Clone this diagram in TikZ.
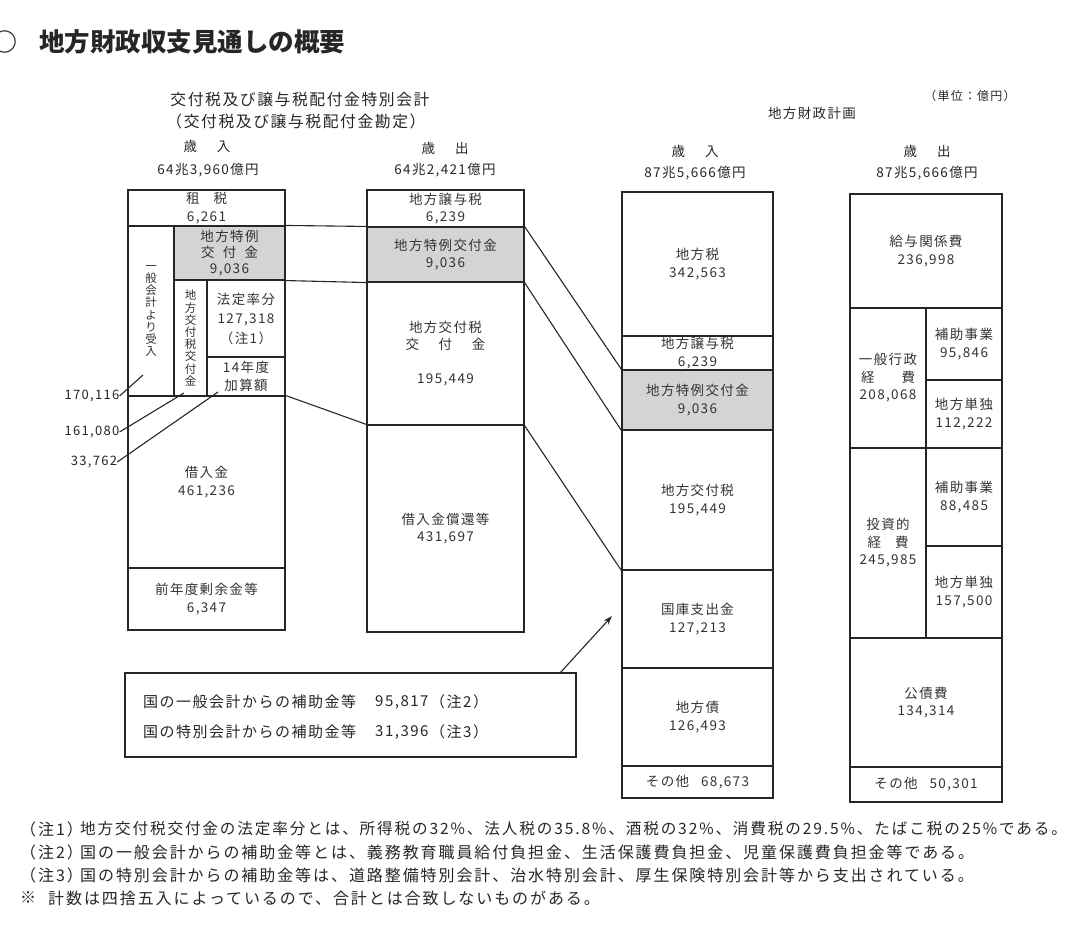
\documentclass[tikz,border=0pt]{standalone}
\usepackage{fontspec}
\setmainfont{Noto Sans CJK JP}[LetterSpace=10]
\newfontfamily\titlefont{Noto Sans CJK JP}
\newfontfamily\notefont{Noto Sans CJK JP}[LetterSpace=12]
\usetikzlibrary{arrows.meta}

\begin{document}
\begin{tikzpicture}[x=1pt, y=-1pt,
                    box/.style={rectangle, draw=black!85, line width=1.1pt, inner sep=0pt, align=center,
                                text=black!80, font=\fontsize{13.5}{17.5}\selectfont},
                    grey/.style={box, fill=black!17},
                    wh/.style 2 args={minimum width=#1, minimum height=#2},
                    vert/.style={font=\fontsize{11.5}{12.2}\selectfont},
                    txt/.style={inner sep=0pt, align=center, text=black!85, font=\fontsize{13.5}{17.5}\selectfont},
                    note/.style={inner sep=0pt, anchor=west, text=black!85, font=\notefont\fontsize{16}{18}\selectfont},
                    every edge/.style={draw, black!85, line width=1.1pt}]

    \clip (0,0) rectangle (1086,936);

    % Headings
    \node[txt, font=\titlefont\bfseries\fontsize{25}{28}\selectfont] (circ) at (5,42) {○};
    \node[txt, font=\titlefont\bfseries\fontsize{25.5}{28}\selectfont] (title) at (192,42) {地方財政収支見通しの概要};
    \node[txt, font=\fontsize{15.8}{18}\selectfont] (tokkai) at (300,100) {交付税及び譲与税配付金特別会計};
    \node[txt, font=\fontsize{15.8}{18}\selectfont] (kanjou) at (296,121) {（交付税及び譲与税配付金勘定）};
    \node[txt] (lin) at (207,146) {歳\hspace{20pt}入};
    \node[txt] (linv) at (208,170) {64兆3,960億円};
    \node[txt] (lout) at (445,148) {歳\hspace{20pt}出};
    \node[txt] (loutv) at (445,170) {64兆2,421億円};
    \node[txt] (keikaku) at (812,113) {地方財政計画};
    \node[txt, font=\fontsize{12}{14}\selectfont] (tani) at (970,96) {（単位：億円）};
    \node[txt] (rin) at (695,151) {歳\hspace{20pt}入};
    \node[txt] (rinv) at (695,173) {87兆5,666億円};
    \node[txt] (rout) at (927,151) {歳\hspace{20pt}出};
    \node[txt] (routv) at (927,173) {87兆5,666億円};

    % Special account: revenue
    \node[box, wh={157}{36}] (sozei) at (206.5,208) {租\hspace{14pt}税\\6,261};
    \node[box, vert, wh={46}{170}] (ippan) at (151,311) {一\\般\\会\\計\\よ\\り\\受\\入}; % from general account
    \node[grey, wh={111}{54}, font=\fontsize{13.5}{16}\selectfont] (tokurei) at (229.5,253) {地方特例\\\makebox[57pt][s]{交\hfill 付\hfill 金}\\9,036};
    \node[box, vert, wh={33}{116}] (koufuzei) at (190.5,338) {地\\方\\交\\付\\税\\交\\付\\金};
    \node[box, wh={78}{77}, font=\fontsize{13.5}{19.5}\selectfont] (houtei) at (246,318.5) {法定率分\\127,318\\（注1）};
    \node[box, wh={78}{39}] (kasan) at (246,376.5) {14年度\\加算額};
    \node[box, wh={157}{172}] (kariire) at (206.5,482) {借入金\\461,236};
    \node[box, wh={157}{62}] (zennen) at (206.5,599) {前年度剰余金等\\6,347};

    % Sums on the left
    \node[txt, font=\fontsize{13}{15}\selectfont] (v170) at (92,396) {170,116};
    \node[txt, font=\fontsize{13}{15}\selectfont] (v161) at (92,432) {161,080};
    \node[txt, font=\fontsize{13}{15}\selectfont] (v33) at (94,462) {33,762};
    \coordinate (c170) at (143,375);
    \coordinate (c161) at (184,393);
    \coordinate (c33) at (218,392);

    % Special account: expenditure
    \node[box, wh={157}{37}] (mjouyo) at (445.5,208.5) {地方譲与税\\6,239};
    \node[grey, wh={157}{55}] (mtokurei) at (445.5,254.5) {地方特例交付金\\9,036};
    \node[box, wh={157}{143}] (mkoufu) at (445.5,353.5) {地方交付税\\\makebox[80pt][s]{交\hfill 付\hfill 金}\\[16pt]195,449};
    \node[box, wh={157}{207}] (mshoukan) at (445.5,528.5) {借入金償還等\\431,697};

    % Local finance plan: revenue
    \node[box, wh={151}{144}] (rzei) at (697.5,264) {地方税\\342,563};
    \node[box, wh={151}{34}] (rjouyo) at (697.5,353) {地方譲与税\\6,239};
    \node[grey, wh={151}{60}] (rtokurei) at (697.5,400) {地方特例交付金\\9,036};
    \node[box, wh={151}{140}] (rkoufu) at (697.5,500) {地方交付税\\195,449};
    \node[box, wh={151}{98}] (rkokko) at (697.5,619) {国庫支出金\\127,213};
    \node[box, wh={151}{98}] (rsai) at (697.5,717) {地方債\\126,493};
    \node[box, wh={151}{32}] (rsonota) at (697.5,782) {その他\hspace{12pt}68,673};

    % Local finance plan: expenditure
    \node[box, wh={152}{114}] (kyuyo) at (926,251) {給与関係費\\236,998};
    \node[box, wh={76}{140}] (gyousei) at (888,378) {一般行政\\\makebox[54pt][s]{経\hfill 費}\\208,068};
    \node[box, wh={76}{72}] (ghojo) at (964,344) {補助事業\\95,846};
    \node[box, wh={76}{68}] (gtan) at (964,414) {地方単独\\112,222};
    \node[box, wh={76}{190}] (toushi) at (888,543) {投資的\\\makebox[41pt][s]{経\hfill 費}\\245,985};
    \node[box, wh={76}{98}] (thojo) at (964,497) {補助事業\\88,485};
    \node[box, wh={76}{92}] (ttan) at (964,592) {地方単独\\157,500};
    \node[box, wh={152}{129}] (kousai) at (926,702.5) {公債費\\134,314};
    \node[box, wh={152}{35}] (esonota) at (926,784.5) {その他\hspace{12pt}50,301};

    % Subsidies box
    \node[box, wh={451}{84}] (hojokin) at (350.5,715) {};
    \node[txt, anchor=west, font=\fontsize{15}{18}\selectfont] (ippanh) at (143,702) {国の一般会計からの補助金等};
    \node[txt, anchor=west, font=\fontsize{15}{18}\selectfont] (ippanv) at (375,702) {95,817};
    \node[txt, anchor=west, font=\fontsize{15}{18}\selectfont] (ippann) at (430,702) {（注2）};
    \node[txt, anchor=west, font=\fontsize{15}{18}\selectfont] (tokubeth) at (143,732) {国の特別会計からの補助金等};
    \node[txt, anchor=west, font=\fontsize{15}{18}\selectfont] (tokubetv) at (375,732) {31,396};
    \node[txt, anchor=west, font=\fontsize{15}{18}\selectfont] (tokubetn) at (430,732) {（注3）};
    \coordinate (astart) at (560,673);
    \coordinate (atip) at (612,616);

    % Notes
    \node[note] (n1l) at (20,829) {（注1）};
    \node[note, font=\notefont\fontsize{15.6}{18}\selectfont] (n1) at (80,829) {地方交付税交付金の法定率分とは、所得税の32\%、法人税の35.8\%、酒税の32\%、消費税の29.5\%、たばこ税の25\%である。};
    \node[note] (n2l) at (20,852) {（注2）};
    \node[note] (n2) at (80,852) {国の一般会計からの補助金等とは、義務教育職員給付負担金、生活保護費負担金、児童保護費負担金等である。};
    \node[note] (n3l) at (20,875) {（注3）};
    \node[note] (n3) at (80,875) {国の特別会計からの補助金等は、道路整備特別会計、治水特別会計、厚生保険特別会計等から支出されている。};
    \node[note] (n4l) at (20,898) {※};
    \node[note] (n4) at (48,898) {計数は四捨五入によっているので、合計とは合致しないものがある。};

    % Connectors
    \path (v170.east) edge (c170);
    \path (v161.east) edge (c161);
    \path (v33.east) edge (c33);
    \path (tokurei.north east) edge (mtokurei.north west);
    \path (tokurei.south east) edge (mtokurei.south west);
    \path (kariire.north east) edge (mshoukan.north west);
    \path (mtokurei.north east) edge (rtokurei.north west);
    \path (mtokurei.south east) edge (rtokurei.south west);
    \path (mkoufu.south east) edge (rkoufu.south west);
    \path [->, >={Stealth[length=9pt, width=6pt]}] (astart) edge (atip);
\end{tikzpicture}
\end{document}
